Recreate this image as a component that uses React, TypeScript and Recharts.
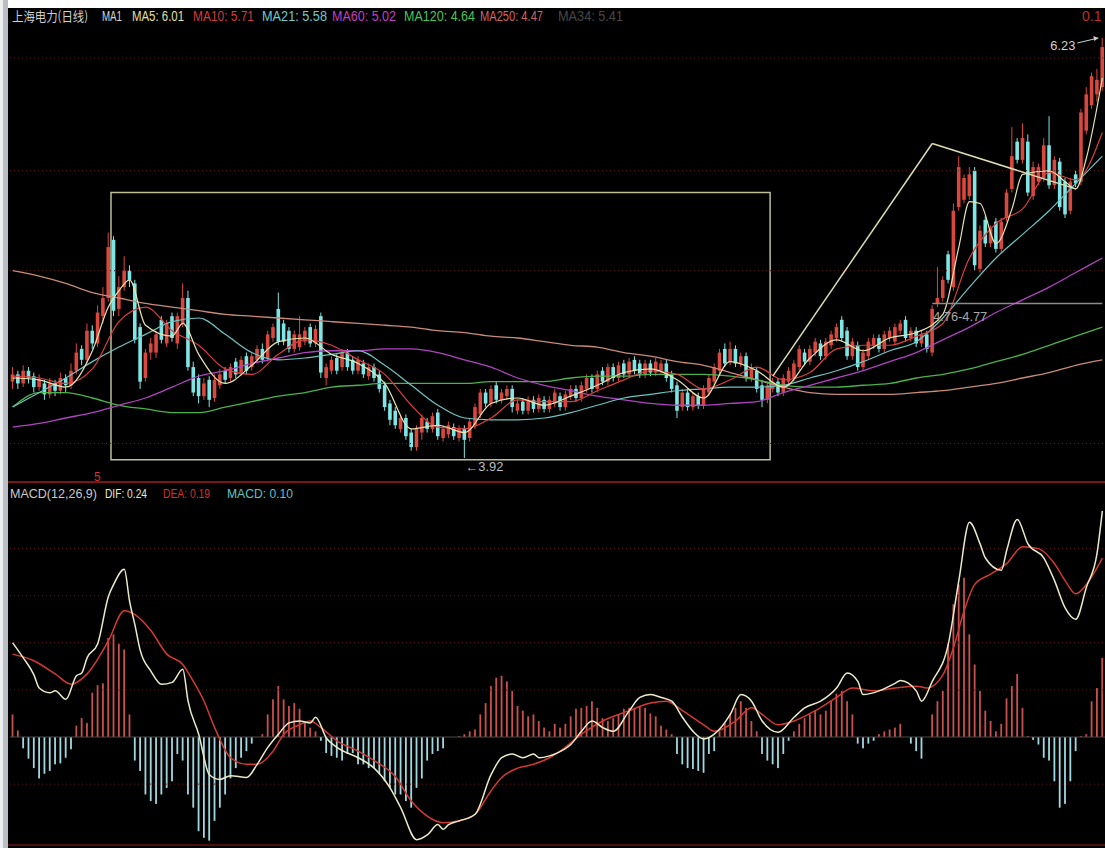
import {
  Bar,
  ComposedChart,
  Line,
  ReferenceArea,
  ReferenceDot,
  ReferenceLine,
  XAxis,
  YAxis
} from "recharts";

// daily candles: [open, high, low, close]
const candles: [number, number, number, number][] = [
  [4.34,4.42,4.30,4.38],[4.38,4.40,4.30,4.33],[4.33,4.43,4.31,4.40],[4.40,4.42,4.33,4.36],[4.37,4.39,4.28,4.31],[4.31,4.38,4.29,4.35],
  [4.33,4.35,4.24,4.27],[4.27,4.36,4.25,4.33],[4.33,4.35,4.26,4.29],[4.29,4.39,4.27,4.36],[4.36,4.38,4.28,4.32],[4.32,4.44,4.30,4.40],
  [4.40,4.55,4.38,4.50],[4.52,4.54,4.43,4.46],[4.46,4.66,4.44,4.62],[4.62,4.65,4.52,4.55],[4.55,4.76,4.53,4.72],[4.70,4.86,4.66,4.80],
  [4.80,5.16,4.78,5.08],[5.12,5.14,4.70,4.73],[4.74,4.92,4.70,4.86],[4.86,5.03,4.84,4.95],[4.95,4.98,4.86,4.90],[4.88,4.90,4.55,4.57],
  [4.64,4.66,4.30,4.34],[4.36,4.52,4.34,4.50],[4.50,4.58,4.46,4.55],
  [4.50,4.62,4.47,4.60],[4.68,4.70,4.55,4.57],[4.55,4.68,4.53,4.66],[4.70,4.72,4.56,4.58],[4.55,4.72,4.52,4.70],[4.66,4.88,4.64,4.80],
  [4.80,4.84,4.40,4.42],[4.42,4.45,4.26,4.28],[4.36,4.38,4.22,4.26],[4.26,4.36,4.24,4.33],[4.35,4.37,4.20,4.24],[4.25,4.38,4.23,4.35],
  [4.32,4.41,4.30,4.38],[4.40,4.42,4.33,4.35],[4.36,4.44,4.34,4.42],
  [4.45,4.47,4.36,4.38],[4.39,4.48,4.37,4.46],[4.48,4.50,4.38,4.40],[4.42,4.50,4.40,4.48],[4.46,4.54,4.44,4.52],[4.52,4.55,4.44,4.46],
  [4.47,4.62,4.45,4.60],[4.58,4.66,4.56,4.64],[4.74,4.83,4.54,4.56],[4.66,4.68,4.54,4.56],[4.62,4.64,4.50,4.52],[4.52,4.62,4.50,4.60],
  [4.53,4.70,4.51,4.60],[4.56,4.64,4.54,4.62],[4.64,4.66,4.53,4.55],[4.55,4.65,4.53,4.63],[4.70,4.72,4.36,4.39],[4.36,4.44,4.32,4.42],
  [4.40,4.48,4.38,4.46],[4.47,4.49,4.38,4.40],[4.42,4.52,4.40,4.50],[4.50,4.52,4.40,4.42],
  [4.46,4.48,4.38,4.40],[4.40,4.48,4.38,4.46],[4.44,4.46,4.36,4.38],[4.37,4.44,4.35,4.42],[4.42,4.44,4.34,4.36],[4.38,4.40,4.28,4.30],
  [4.32,4.34,4.18,4.20],[4.22,4.24,4.10,4.13],[4.18,4.20,4.08,4.10],[4.08,4.16,4.06,4.14],[4.14,4.16,4.02,4.04],[4.06,4.08,3.96,3.98],
  [3.98,4.10,3.96,4.08],[4.06,4.16,4.02,4.14],[4.12,4.14,4.06,4.08],[4.08,4.17,4.06,4.15],[4.17,4.19,4.02,4.04],[4.03,4.10,4.01,4.08],
  [4.05,4.12,4.03,4.10],[4.09,4.11,4.02,4.04],[4.03,4.10,4.01,4.08],[4.08,4.10,3.92,4.02],[4.03,4.14,4.01,4.12],[4.10,4.22,4.08,4.20],
  [4.16,4.30,4.14,4.28],[4.28,4.30,4.20,4.22],[4.22,4.32,4.20,4.30],[4.32,4.34,4.22,4.24],[4.24,4.30,4.22,4.28],[4.26,4.32,4.24,4.30],
  [4.30,4.32,4.17,4.20],[4.18,4.24,4.16,4.22],[4.23,4.25,4.16,4.18],[4.18,4.26,4.16,4.24],
  [4.24,4.26,4.17,4.19],[4.19,4.27,4.17,4.25],[4.24,4.26,4.17,4.19],[4.19,4.26,4.17,4.24],[4.22,4.30,4.20,4.28],[4.26,4.28,4.18,4.20],
  [4.20,4.29,4.18,4.27],[4.26,4.32,4.24,4.30],[4.30,4.32,4.23,4.25],[4.25,4.34,4.23,4.32],[4.30,4.38,4.28,4.36],[4.36,4.38,4.28,4.30],
  [4.30,4.40,4.28,4.38],
  [4.40,4.42,4.32,4.34],[4.34,4.44,4.32,4.42],[4.42,4.44,4.34,4.36],[4.36,4.45,4.34,4.43],[4.44,4.46,4.36,4.38],[4.38,4.47,4.36,4.45],
  [4.46,4.48,4.38,4.40],[4.44,4.46,4.36,4.38],[4.38,4.46,4.36,4.44],[4.44,4.46,4.37,4.39],[4.39,4.47,4.37,4.45],
  [4.40,4.46,4.38,4.44],[4.44,4.46,4.34,4.36],[4.38,4.40,4.28,4.30],[4.32,4.34,4.14,4.18],[4.20,4.30,4.18,4.28],[4.28,4.30,4.18,4.20],
  [4.20,4.28,4.18,4.26],[4.26,4.28,4.19,4.21],[4.21,4.32,4.19,4.30],[4.28,4.38,4.26,4.36],[4.34,4.44,4.32,4.42],[4.40,4.52,4.38,4.50],
  [4.52,4.55,4.42,4.44],[4.45,4.56,4.43,4.52],[4.52,4.54,4.42,4.44],[4.44,4.50,4.42,4.48],[4.48,4.50,4.34,4.36],[4.36,4.44,4.34,4.42],
  [4.40,4.42,4.28,4.30],[4.32,4.34,4.20,4.24],[4.24,4.34,4.22,4.32],[4.30,4.36,4.28,4.34],[4.34,4.36,4.26,4.28],[4.28,4.38,4.26,4.36],
  [4.34,4.42,4.32,4.40],
  [4.36,4.46,4.34,4.44],[4.42,4.54,4.40,4.52],[4.50,4.52,4.43,4.45],[4.45,4.54,4.43,4.52],[4.50,4.58,4.48,4.56],[4.55,4.57,4.46,4.48],
  [4.48,4.58,4.46,4.56],[4.54,4.62,4.52,4.60],[4.58,4.66,4.56,4.64],[4.68,4.70,4.56,4.58],[4.62,4.64,4.46,4.48],[4.48,4.58,4.46,4.56],
  [4.54,4.56,4.40,4.42],[4.42,4.52,4.40,4.50],[4.48,4.58,4.46,4.56],[4.54,4.60,4.52,4.58],[4.58,4.60,4.50,4.52],[4.52,4.62,4.50,4.60],
  [4.58,4.64,4.56,4.62],
  [4.56,4.66,4.54,4.64],[4.62,4.68,4.60,4.66],[4.68,4.70,4.56,4.58],[4.58,4.64,4.56,4.62],[4.62,4.64,4.53,4.55],[4.55,4.62,4.53,4.60],
  [4.60,4.62,4.50,4.52],[4.50,4.76,4.48,4.74],[4.77,4.97,4.75,4.80],[4.80,4.92,4.78,4.90],[5.04,5.06,4.88,4.90],[4.86,5.32,4.84,5.28],
  [5.30,5.58,5.28,5.52],[5.34,5.48,5.32,5.46],[5.36,5.52,5.34,5.48],[5.50,5.52,4.95,4.98],[4.96,5.20,4.94,5.17],[5.23,5.25,5.08,5.10],
  [5.10,5.20,5.08,5.18],[5.22,5.24,5.05,5.07],[5.07,5.24,5.05,5.22],[5.24,5.40,5.22,5.38],[5.40,5.74,5.38,5.58],[5.66,5.68,5.54,5.56],
  [5.56,5.76,5.54,5.68],[5.66,5.70,5.36,5.38],[5.36,5.55,5.34,5.52],[5.44,5.54,5.42,5.52],[5.46,5.68,5.44,5.64],[5.64,5.80,5.40,5.42],
  [5.42,5.58,5.40,5.56],[5.55,5.57,5.28,5.30],[5.44,5.46,5.24,5.26],[5.28,5.46,5.26,5.44],[5.48,5.50,5.41,5.43],[5.44,5.84,5.42,5.82],
  [5.72,5.96,5.70,5.92],[5.86,6.04,5.84,6.02],[5.92,6.06,5.88,6.00],[5.96,6.23,5.94,6.18]
];

const maDays = [0,5,10,15,20,25,30,35,40,45,50,55,60,65,70,75,80,85,90,95,100,105,110,115,120,125,130,135,140,145,150,155,160,165,170,175,180,185,190,195,200,205];
const ma10 = [4.37,4.36,4.33,4.41,4.67,4.75,4.62,4.54,4.41,4.38,4.49,4.57,4.54,4.46,4.38,4.21,4.09,4.08,4.14,4.24,4.23,4.23,4.29,4.35,4.40,4.38,4.30,4.35,4.42,4.35,4.39,4.52,4.54,4.54,4.59,4.66,5.02,5.21,5.29,5.49,5.45,5.71];
const ma21 = [4.20,4.28,4.36,4.45,4.53,4.60,4.67,4.69,4.60,4.50,4.46,4.47,4.49,4.51,4.43,4.32,4.21,4.14,4.13,4.13,4.14,4.17,4.21,4.25,4.27,4.29,4.30,4.31,4.31,4.32,4.36,4.40,4.45,4.51,4.56,4.69,4.86,5.02,5.15,5.28,5.43,5.58];
const ma60 = [4.09,4.11,4.14,4.17,4.21,4.25,4.31,4.37,4.40,4.44,4.47,4.50,4.51,4.51,4.52,4.52,4.50,4.46,4.42,4.36,4.32,4.29,4.26,4.24,4.22,4.21,4.21,4.22,4.23,4.28,4.32,4.36,4.40,4.45,4.50,4.57,4.64,4.72,4.79,4.86,4.94,5.02];
const ma120 = [4.20,4.28,4.28,4.25,4.21,4.19,4.17,4.17,4.20,4.23,4.26,4.28,4.31,4.32,4.33,4.33,4.33,4.33,4.34,4.34,4.34,4.36,4.37,4.37,4.38,4.38,4.38,4.37,4.35,4.32,4.31,4.31,4.32,4.33,4.36,4.38,4.41,4.45,4.49,4.54,4.59,4.64];
const ma250 = [4.95,4.92,4.88,4.83,4.80,4.77,4.75,4.73,4.71,4.70,4.69,4.68,4.67,4.66,4.65,4.64,4.62,4.61,4.59,4.58,4.56,4.54,4.53,4.50,4.48,4.45,4.43,4.39,4.35,4.31,4.28,4.27,4.27,4.27,4.28,4.29,4.31,4.33,4.36,4.39,4.43,4.46];

// [day, value]
const ma5: [number, number][] = [
  [0,4.36],[5,4.35],[10,4.31],[15,4.51],[18,4.75],[20,4.84],[22,4.90],[25,4.65],[30,4.59],[32,4.66],[35,4.49],[40,4.33],
  [45,4.43],[50,4.56],[55,4.58],[60,4.49],[65,4.44],[70,4.33],[75,4.08],[80,4.10],[85,4.06],[90,4.22],[95,4.25],[100,4.21],
  [105,4.26],[110,4.32],[115,4.39],[120,4.41],[125,4.35],[130,4.25],[135,4.45],[140,4.40],[145,4.31],[150,4.47],[155,4.57],
  [160,4.51],[165,4.58],[170,4.61],[175,4.71],[178,5.08],[180,5.33],[182,5.32],[185,5.10],[188,5.29],[190,5.48],[195,5.50],
  [198,5.44],[200,5.40],[202,5.57],[205,6.01]
];

const macdHist = [
  0.024,0.007,
  -0.012,-0.023,-0.033,-0.044,-0.039,-0.036,-0.029,-0.028,-0.022,-0.013,
  0.012,0.020,0.015,0.047,0.055,0.057,0.105,0.109,0.099,0.093,0.024,
  -0.025,-0.036,-0.061,-0.068,-0.071,-0.061,-0.054,-0.047,-0.018,-0.025,-0.061,-0.075,-0.100,-0.107,-0.110,-0.089,-0.075,-0.061,-0.044,-0.033,-0.022,-0.015,-0.007,
  0,
  0.003,0.024,0.040,0.054,0.040,0.033,0.036,0.030,0.015,0.010,0.006,
  -0.004,-0.017,-0.020,-0.022,-0.025,-0.018,-0.017,-0.029,-0.029,-0.033,-0.033,-0.039,-0.047,-0.054,-0.061,-0.061,-0.068,-0.075,-0.054,-0.044,-0.025,-0.018,-0.015,-0.012,
  0,0,
  0.001,0.003,0.006,0.008,0.024,0.036,0.054,0.063,0.065,0.059,0.049,0.033,0.028,0.022,0.024,0.017,
  0.010,0.006,0.014,0.010,0.014,0.022,0.030,0.031,0.033,0.038,0.031,0.020,0.017,0.020,0.024,0.030,0.031,0.030,0.033,0.031,0.025,0.022,0.012,0.008,
  0.003,
  -0.018,-0.029,-0.033,-0.034,-0.036,-0.038,-0.018,-0.015,
  0.006,0.015,0.024,0.031,0.038,0.031,0.017,0.006,
  -0.018,-0.025,-0.029,-0.033,-0.018,-0.004,
  0.006,0.014,0.020,0.024,0.028,0.024,0.028,0.038,0.046,0.049,0.038,0.024,
  -0.007,-0.012,-0.007,-0.004,
  0.003,0.006,0.008,0.010,0.014,
  0,
  -0.007,-0.015,-0.023,
  0,
  0.024,0.038,0.049,0.099,0.141,0.162,0.169,0.109,0.077,0.049,0.028,0.017,0.006,0.014,0.041,0.054,0.067,0.031,
  0.001,-0.003,-0.008,
  -0.022,-0.025,-0.047,-0.075,-0.071,-0.047,-0.015,
  0.001,
  0.003,0.038,0.052,0.084
];

const dif: [number, number][] = [
  [0,0.100],[2,0.084],[4,0.066],[5,0.052],[7,0.047],[8,0.049],[10,0.040],[12,0.065],[13,0.068],[14,0.084],[16,0.099],
  [18,0.149],[19,0.162],[21,0.178],[22,0.144],[23,0.119],[24,0.092],[26,0.070],[28,0.056],[30,0.058],[32,0.072],[33,0.038],
  [35,0.003],[37,-0.040],[39,-0.045],[41,-0.041],[44,-0.043],[46,-0.029],[48,-0.011],[50,0.003],[52,0.015],[54,0.017],
  [56,0.015],[57,0.021],[59,-0.001],[61,-0.011],[65,-0.022],[68,-0.033],[71,-0.054],[73,-0.075],[76,-0.109],[78,-0.104],
  [80,-0.093],[81,-0.098],[82,-0.093],[84,-0.089],[87,-0.082],[90,-0.040],[92,-0.022],[94,-0.018],[96,-0.022],[98,-0.018],
  [99,-0.022],[101,-0.020],[102,-0.018],[105,-0.008],[107,0.006],[109,0.017],[111,0.010],[113,0.006],[116,0.028],[118,0.042],
  [120,0.045],[122,0.042],[124,0.038],[126,0.021],[128,0.006],[130,-0.002],[132,0.003],[135,0.024],[137,0.045],[139,0.038],
  [141,0.017],[144,0.005],[147,0.021],[149,0.031],[152,0.038],[155,0.052],[157,0.068],[159,0.059],[160,0.045],[163,0.049],
  [166,0.057],[167,0.060],[170,0.049],[171,0.038],[173,0.059],[176,0.098],[178,0.166],[180,0.228],[182,0.205],[183,0.190],
  [186,0.177],[187,0.198],[189,0.231],[191,0.205],[194,0.190],[196,0.166],[198,0.137],[200,0.125],[202,0.159],[204,0.195],
  [205,0.240]
];

const dea: [number, number][] = [
  [0,0.088],[4,0.081],[8,0.067],[11,0.056],[14,0.067],[18,0.102],[21,0.134],[23,0.130],[26,0.113],[29,0.088],[32,0.077],
  [34,0.059],[36,0.038],[38,0.010],[41,-0.022],[44,-0.029],[46,-0.029],[49,-0.015],[51,0.003],[54,0.013],[56,0.017],
  [58,0.010],[61,-0.004],[65,-0.015],[68,-0.025],[72,-0.042],[75,-0.068],[78,-0.084],[81,-0.091],[84,-0.089],[87,-0.082],
  [90,-0.057],[92,-0.043],[95,-0.033],[98,-0.029],[101,-0.022],[103,-0.015],[107,0.003],[111,0.017],[116,0.028],[120,0.036],
  [123,0.038],[126,0.028],[130,0.013],[132,0.006],[136,0.017],[139,0.031],[141,0.024],[144,0.013],[147,0.017],[151,0.028],
  [155,0.042],[158,0.052],[162,0.049],[166,0.052],[170,0.054],[172,0.052],[175,0.066],[177,0.095],[179,0.134],[181,0.162],
  [184,0.173],[187,0.184],[190,0.202],[193,0.200],[196,0.184],[198,0.166],[200,0.152],[202,0.162],[205,0.190]
];

const priceGrid = [6.12, 5.5, 4.95, 4.0];
const macdGrid = [0.2, 0.15, 0.1, 0.05, -0.05];

const rows: any[] = candles.map(([o, h, l, c], j) => ({ j, o, h, l, c, macd: macdHist[j] }));
const put = (key: string, pts: [number, number][]) => pts.forEach(([j, v]) => (rows[j][key] = v));
put("ma5", ma5);
put("ma10", maDays.map((d, i) => [d, ma10[i]] as [number, number]));
put("ma21", maDays.map((d, i) => [d, ma21[i]] as [number, number]));
put("ma60", maDays.map((d, i) => [d, ma60[i]] as [number, number]));
put("ma120", maDays.map((d, i) => [d, ma120[i]] as [number, number]));
put("ma250", maDays.map((d, i) => [d, ma250[i]] as [number, number]));
put("dif", dif);
put("dea", dea);

function Candle(props: any) {
  const { x, y, width, height, payload } = props;
  if (!payload) return null;
  const { o, h, l, c } = payload;
  const up = c >= o;
  const k = height / Math.max(h - l, 0.0001);
  const yo = y + (h - o) * k;
  const yc = y + (h - c) * k;
  const cx = x + width / 2;
  const col = up ? "#d8483f" : "#7fe6e6";
  return (
    <g>
      <line x1={cx} x2={cx} y1={y} y2={y + height} stroke={col} strokeWidth={1} />
      <rect x={cx - 1.8} y={Math.min(yo, yc)} width={3.6} height={Math.max(Math.abs(yo - yc), 1)} fill={col} />
    </g>
  );
}

function MacdBar(props: any) {
  const { x, y, width, height, payload } = props;
  const v = payload ? payload.macd : 0;
  if (!v) return null;
  const cx = x + width / 2;
  return (
    <rect
      x={cx - 0.9}
      y={Math.min(y, y + height)}
      width={1.8}
      height={Math.max(Math.abs(height), 0.5)}
      fill={v > 0 ? "#c9504f" : "#9fd8e0"}
    />
  );
}

const lineProps = { dot: false, activeDot: false, connectNulls: true, isAnimationActive: false, type: "monotone" as const };
const mono = "'Liberation Sans Narrow', 'Liberation Sans', 'Noto Sans CJK SC', sans-serif";

export default function App() {
  return (
    <div style={{ position: "relative", width: 1105, height: 848, background: "#fff", overflow: "hidden" }}>
      <style>{"body{margin:0}"}</style>
      <div style={{ position: "absolute", left: 0, top: 0, width: 8, height: 848, background: "linear-gradient(to right,#eceef0 0,#eceef0 3px,#b9bec4 3px)" }} />
      <div style={{ position: "absolute", left: 8, top: 8, width: 1097, height: 840, background: "#000" }} />
      <div style={{ position: "absolute", left: 8, top: 481, width: 1097, height: 2, background: "#7c1616" }} />
      <div style={{ position: "absolute", left: 8, top: 844, width: 1097, height: 2, background: "#4a0e0e" }} />

      <div style={{ position: "absolute", left: 0, top: 0 }}>
        <ComposedChart width={1105} height={482} data={rows} margin={{ top: 10, right: 0, bottom: 4, left: 10 }}>
          <XAxis dataKey="j" hide />
          <YAxis hide domain={[3.81, 6.384]} allowDataOverflow />
          {priceGrid.map((p) => (
            <ReferenceLine key={p} y={p} stroke="#5c1a1a" strokeDasharray="1 3" />
          ))}
          <ReferenceArea x1={19} x2={142} y1={3.91} y2={5.38} stroke="#bdbd98" strokeWidth={1.5} fill="#000" fillOpacity={0} />
          <Line dataKey="ma250" stroke="#c98a7a" strokeWidth={1.3} {...lineProps} />
          <Line dataKey="ma120" stroke="#4cb24c" strokeWidth={1.3} {...lineProps} />
          <Line dataKey="ma60" stroke="#b044c0" strokeWidth={1.3} {...lineProps} />
          <Bar dataKey={(d: any) => [d.l, d.h]} shape={<Candle />} isAnimationActive={false} />
          <Line dataKey="ma21" stroke="#6cc4c4" strokeWidth={1.2} {...lineProps} />
          <Line dataKey="ma10" stroke="#d84040" strokeWidth={1.2} {...lineProps} />
          <Line dataKey="ma5" stroke="#e8e6b0" strokeWidth={1.2} {...lineProps} />
          <ReferenceLine segment={[{ x: 143, y: 4.37 }, { x: 173, y: 5.65 }]} stroke="#dcdcb0" strokeWidth={1.5} />
          <ReferenceLine segment={[{ x: 173, y: 5.65 }, { x: 200, y: 5.4 }]} stroke="#dcdcb0" strokeWidth={1.5} />
          <ReferenceLine segment={[{ x: 173, y: 4.77 }, { x: 205, y: 4.77 }]} stroke="#8c8c8c" strokeWidth={1.5} />
          <ReferenceDot
            x={173}
            y={4.77}
            r={1}
            fill="none"
            stroke="none"
            label={(p: any) => (
              <text x={p.viewBox.x + 2} y={p.viewBox.y + 19} fill="#a8a8a8" fontSize={12} fontFamily={mono} textLength={54} lengthAdjust="spacingAndGlyphs">
                4.76-4.77
              </text>
            )}
          />
          <ReferenceDot
            x={85}
            y={3.92}
            r={1}
            fill="none"
            stroke="none"
            label={(p: any) => (
              <text x={p.viewBox.x + 2} y={p.viewBox.y + 14} fill="#bdbdbd" fontSize={12} fontFamily={mono} textLength={38} lengthAdjust="spacingAndGlyphs">
                ←3.92
              </text>
            )}
          />
          <ReferenceDot
            x={205}
            y={6.23}
            r={1}
            fill="none"
            stroke="none"
            label={(p: any) => {
              const cx = p.viewBox.x + 1;
              const cy = p.viewBox.y + 1;
              return (
                <g>
                  <text x={cx - 52} y={cy + 12} fill="#d2d2d2" fontSize={13} fontFamily={mono} textLength={25} lengthAdjust="spacingAndGlyphs">
                    6.23
                  </text>
                  <line x1={cx - 25} y1={cy + 5} x2={cx - 4} y2={cy} stroke="#d2d2d2" strokeWidth={1} />
                  <path d={`M${cx - 4} ${cy} l-5 -2 l1 5 z`} fill="#d2d2d2" />
                </g>
              );
            }}
          />
        </ComposedChart>
      </div>

      <div style={{ position: "absolute", left: 0, top: 483 }}>
        <ComposedChart width={1105} height={365} data={rows} margin={{ top: 17, right: 0, bottom: 2, left: 10 }}>
          <XAxis dataKey="j" hide />
          <YAxis hide domain={[-0.1157, 0.2516]} allowDataOverflow />
          {macdGrid.map((v) => (
            <ReferenceLine key={v} y={v} stroke="#5c1a1a" strokeDasharray="1 3" />
          ))}
          <ReferenceLine y={0} stroke="#4a4a4a" />
          <Bar dataKey="macd" shape={<MacdBar />} isAnimationActive={false} />
          <Line dataKey="dea" stroke="#d23a32" strokeWidth={1.5} {...lineProps} />
          <Line dataKey="dif" stroke="#ecebc8" strokeWidth={1.5} {...lineProps} />
        </ComposedChart>
      </div>

      <svg width={1105} height={848} style={{ position: "absolute", left: 0, top: 0, pointerEvents: "none" }} fontFamily={mono}>
        <g fontSize={14}>
          <text x={12} y={21} fill="#cfcfcf" fontSize={13} textLength={76} lengthAdjust="spacingAndGlyphs" fontFamily="'Noto Sans CJK SC', sans-serif">上海电力(日线)</text>
          <text x={102} y={21} fill="#d6d6d6" textLength={20} lengthAdjust="spacingAndGlyphs">MA1</text>
          <text x={132} y={21} fill="#e3e0a2" textLength={52} lengthAdjust="spacingAndGlyphs">MA5: 6.01</text>
          <text x={193} y={21} fill="#d23c3c" textLength={61} lengthAdjust="spacingAndGlyphs">MA10: 5.71</text>
          <text x={262} y={21} fill="#6fc9c9" textLength={65} lengthAdjust="spacingAndGlyphs">MA21: 5.58</text>
          <text x={332} y={21} fill="#c23fc2" textLength={64} lengthAdjust="spacingAndGlyphs">MA60: 5.02</text>
          <text x={404} y={21} fill="#45c45a" textLength={71} lengthAdjust="spacingAndGlyphs">MA120: 4.64</text>
          <text x={480} y={21} fill="#c96666" textLength={63} lengthAdjust="spacingAndGlyphs">MA250: 4.47</text>
          <text x={558} y={21} fill="#474747" textLength={65} lengthAdjust="spacingAndGlyphs">MA34: 5.41</text>
          <text x={1082} y={21} fill="#b83030">0.1</text>
        </g>
        <g fontSize={13}>
          <text x={10} y={498} fill="#c8c8c8" textLength={87} lengthAdjust="spacingAndGlyphs">MACD(12,26,9)</text>
          <text x={105} y={498} fill="#e8e8c8" textLength={42} lengthAdjust="spacingAndGlyphs">DIF: 0.24</text>
          <text x={163} y={498} fill="#d03030" textLength={47} lengthAdjust="spacingAndGlyphs">DEA: 0.19</text>
          <text x={227} y={498} fill="#60c0c0" textLength={66} lengthAdjust="spacingAndGlyphs">MACD: 0.10</text>
        </g>
        <text x={94} y={481} fill="#d03030" fontSize={12}>5</text>
      </svg>
    </div>
  );
}
